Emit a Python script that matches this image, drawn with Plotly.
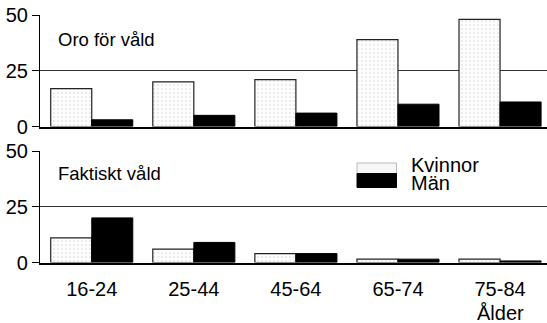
import plotly.graph_objects as go

# ---- data ----
age_groups = ["16-24", "25-44", "45-64", "65-74", "75-84"]
oro_kvinnor = [17, 20, 21, 39, 48]
oro_man = [3, 5, 6, 10, 11]
vald_kvinnor = [11, 6, 4, 1.5, 1.5]
vald_man = [20, 9, 4, 1.5, 0.7]
y_ticks = [0, 25, 50]
panel_titles = ["Oro för våld", "Faktiskt våld"]
series_names = ["Kvinnor", "Män"]
axis_title = "Ålder"

W, H = 547, 323
ML = 40
FONT = "Liberation Sans, Arial, sans-serif"
FS = 20

k_marker = dict(color="#fbfbfb",
                line=dict(color="#222", width=1.2),
                pattern=dict(shape=".", fgcolor="#a8a8a8", bgcolor="#fdfdfd",
                             size=4, solidity=0.12))
m_marker = dict(color="#000", line=dict(color="#000", width=1))

fig = go.Figure()
fig.add_trace(go.Bar(x=age_groups, y=oro_kvinnor, name=series_names[0],
                     marker=k_marker, xaxis="x", yaxis="y", showlegend=False))
fig.add_trace(go.Bar(x=age_groups, y=oro_man, name=series_names[1],
                     marker=m_marker, xaxis="x", yaxis="y", showlegend=False))
fig.add_trace(go.Bar(x=age_groups, y=vald_kvinnor, name=series_names[0],
                     marker=k_marker, xaxis="x2", yaxis="y2", showlegend=False))
fig.add_trace(go.Bar(x=age_groups, y=vald_man, name=series_names[1],
                     marker=m_marker, xaxis="x2", yaxis="y2", showlegend=False))

def py(px):
    return 1 - px / H

def pxx(px):
    return (px - ML) / (W - ML)

xr = [-0.507, 4.46]
yaxis_common = dict(range=[0, 50], tickvals=y_ticks, ticks="outside", ticklen=7,
                    tickcolor="#000", tickwidth=1, showline=True, linecolor="#000",
                    linewidth=1.2, showgrid=True, gridcolor="#333", gridwidth=1,
                    zeroline=False, automargin=False,
                    tickfont=dict(size=FS, color="#000", family=FONT),
                    fixedrange=True)

fig.update_layout(
    width=W, height=H,
    margin=dict(l=ML, r=0, t=0, b=0, autoexpand=False),
    paper_bgcolor="white", plot_bgcolor="white",
    barmode="group", bargap=0.196, bargroupgap=0,
    font=dict(family=FONT, size=FS, color="#000"),
    xaxis=dict(domain=[0, 1], range=xr, anchor="y", showticklabels=False,
               ticks="", showline=True, linecolor="#000", linewidth=1.5,
               showgrid=False, zeroline=False, automargin=False),
    yaxis=dict(domain=[py(126.5), py(15)], anchor="x", **yaxis_common),
    xaxis2=dict(domain=[0, 1], range=xr, anchor="y2", showticklabels=True,
                ticks="outside", ticklen=8, tickcolor="rgba(0,0,0,0)",
                showline=True, linecolor="#000", linewidth=1.5,
                showgrid=False, zeroline=False, automargin=False,
                tickfont=dict(size=FS, color="#000", family=FONT)),
    yaxis2=dict(domain=[py(262.5), py(151)], anchor="x2", **yaxis_common),
)

# panel titles
fig.add_annotation(text=panel_titles[0], xref="paper", yref="paper",
                   x=pxx(56), y=py(40), xanchor="left", yanchor="middle",
                   showarrow=False, font=dict(size=18.5, family=FONT))
fig.add_annotation(text=panel_titles[1], xref="paper", yref="paper",
                   x=pxx(56), y=py(173), xanchor="left", yanchor="middle",
                   showarrow=False, font=dict(size=18.5, family=FONT))

# axis title
fig.add_annotation(text=axis_title, xref="x2", yref="paper",
                   x=age_groups[-1], y=py(312.5), xanchor="center", yanchor="middle",
                   showarrow=False, font=dict(size=FS, family=FONT))

# custom legend
fig.add_shape(type="rect", xref="paper", yref="paper",
              x0=pxx(357), x1=pxx(396.5), y0=py(173.5), y1=py(163),
              fillcolor="#f6f6f6", line=dict(color="#bbb", width=1))
fig.add_shape(type="rect", xref="paper", yref="paper",
              x0=pxx(357), x1=pxx(396.5), y0=py(187.5), y1=py(173.5),
              fillcolor="#000", line=dict(color="#000", width=1))
fig.add_annotation(text=series_names[0], xref="paper", yref="paper",
                   x=pxx(409), y=py(165), xanchor="left", yanchor="middle",
                   showarrow=False, font=dict(size=FS, family=FONT))
fig.add_annotation(text=series_names[1], xref="paper", yref="paper",
                   x=pxx(409), y=py(182.5), xanchor="left", yanchor="middle",
                   showarrow=False, font=dict(size=FS, family=FONT))

fig.write_html("out.html",
               config={"displayModeBar": False},
               post_script="document.body.style.margin='0';"
                           "document.body.style.overflow='hidden';")
